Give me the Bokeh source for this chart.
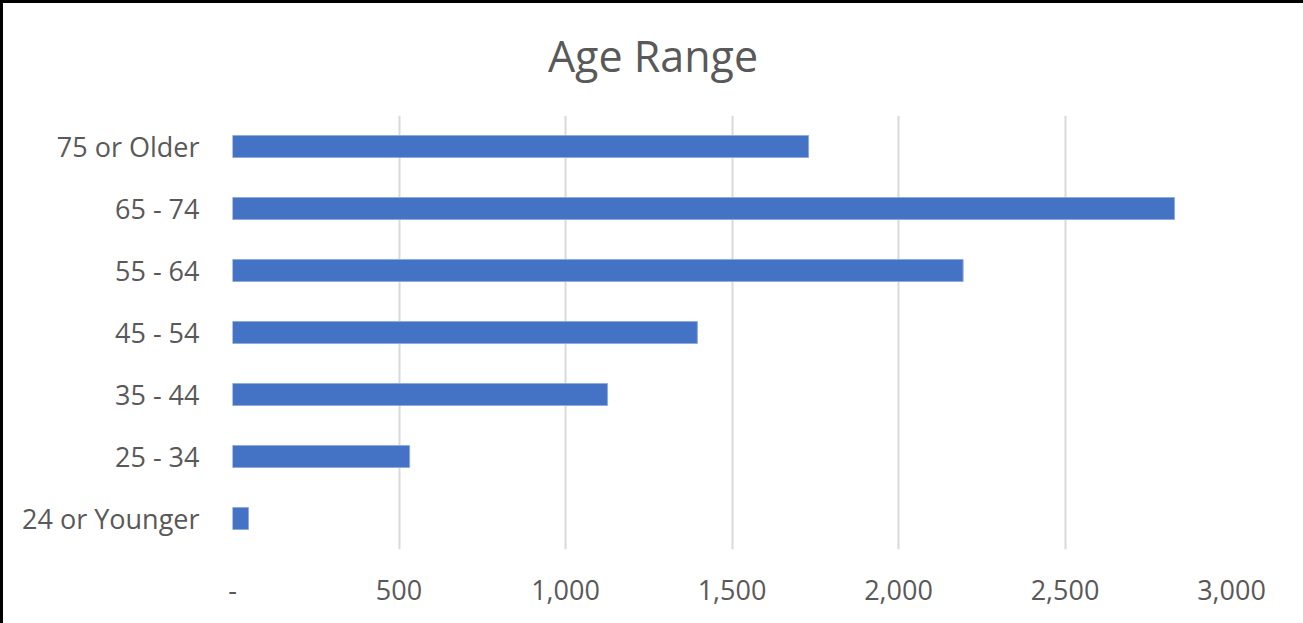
from bokeh.plotting import figure
from bokeh.models import FactorRange, Range1d, FixedTicker, ColumnDataSource, Div
from bokeh.layouts import column
from bokeh.embed import file_html
from bokeh.resources import INLINE

categories = ["24 or Younger", "25 - 34", "35 - 44", "45 - 54", "55 - 64", "65 - 74", "75 or Older"]
counts = [48, 532, 1126, 1396, 2194, 2829, 1730]
tick_values = [0, 500, 1000, 1500, 2000, 2500, 3000]
tick_labels = ["-", "500", "1,000", "1,500", "2,000", "2,500", "3,000"]
title_text = "Age Range"

TEXT = "#595959"
FONT = "Open Sans"

src = ColumnDataSource(dict(cat=categories, val=counts))

title = Div(text=title_text, width=1300, height=112, margin=0,
            styles={"font-family": FONT, "font-size": "43px", "color": TEXT,
                    "text-align": "center", "line-height": "106px",
                    "background-color": "white", "width": "1300px"})

p = figure(
    width=1300, height=508, margin=0,
    y_range=FactorRange(factors=categories, range_padding=0),
    x_range=Range1d(0, 3000),
    output_backend="svg", toolbar_location=None,
    min_border_left=229, min_border_right=72,
    min_border_top=0, min_border_bottom=74,
)

p.hbar(y="cat", right="val", left=0, height=0.355, source=src,
       fill_color="#4472C4", line_color="#8faadc", line_width=1)

p.outline_line_color = None
p.background_fill_color = "white"
p.border_fill_color = "white"

p.xaxis.ticker = FixedTicker(ticks=tick_values)
p.xaxis.major_label_overrides = {v: l for v, l in zip(tick_values, tick_labels)}
for ax in (p.xaxis[0], p.yaxis[0]):
    ax.axis_line_color = None
    ax.major_tick_line_color = None
    ax.minor_tick_line_color = None
    ax.major_label_text_font = FONT
    ax.major_label_text_font_size = "27px"
    ax.major_label_text_color = TEXT
p.xaxis.major_label_standoff = 24
p.yaxis.major_label_standoff = 27

p.xgrid.grid_line_color = "#d9d9d9"
p.xgrid.grid_line_width = 2
p.ygrid.grid_line_color = None

layout = column(title, p, spacing=0,
                styles={"border-top": "3px solid black", "border-left": "3px solid black",
                        "background-color": "white"})

open("out.html", "w").write(file_html(layout, INLINE))
